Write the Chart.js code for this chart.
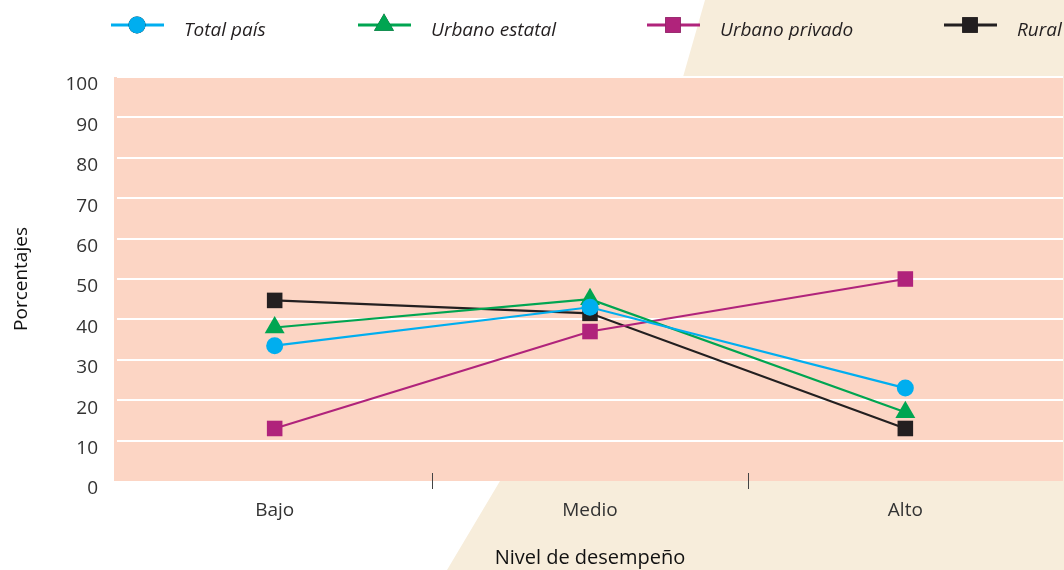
<!DOCTYPE html>
<html>
<head>
<meta charset="utf-8">
<script src="https://cdn.jsdelivr.net/npm/chart.js@4/dist/chart.umd.min.js"></script>
<style>
  html, body { margin: 0; padding: 0; background: #fff; }
  #wrap { position: relative; width: 1064px; height: 570px; }
</style>
</head>
<body>
<div id="wrap"><canvas id="chart" width="1064" height="570"></canvas></div>
<script>
const categories = ['Bajo', 'Medio', 'Alto'];
const totalPais = [33.5, 43, 23];
const urbanoEstatal = [38, 45, 17];
const urbanoPrivado = [13, 37, 50];
const rural = [44.7, 41.5, 13];
const yTicks = [0, 10, 20, 30, 40, 50, 60, 70, 80, 90, 100];

const FONT = '"Open Sans", "Noto Sans", sans-serif';
const legendX = [111, 358, 647, 944];

// beige diagonal shape + salmon plot area
const backdrop = {
    id: 'backdrop',
    beforeDraw(chart) {
        const { ctx, chartArea: a, width, height } = chart;
        ctx.save();
        ctx.fillStyle = '#f7eddb';
        ctx.beginPath();
        ctx.moveTo(705, 0);
        ctx.lineTo(width, 0);
        ctx.lineTo(width, height);
        ctx.lineTo(447, height);
        ctx.lineTo(500, a.bottom);
        ctx.lineTo(683, a.top);
        ctx.closePath();
        ctx.fill();
        ctx.fillStyle = '#fcd5c4';
        ctx.fillRect(a.left - 3, a.top, a.right - a.left + 3, a.bottom - a.top);
        ctx.restore();
    }
};

// small separators between categories
const catTicks = {
    id: 'catTicks',
    afterDraw(chart) {
        const { ctx, chartArea: a } = chart;
        const x = chart.scales.x;
        ctx.save();
        ctx.strokeStyle = '#444';
        ctx.lineWidth = 1;
        for (let i = 0; i < categories.length - 1; i++) {
            const px = Math.round((x.getPixelForTick(i) + x.getPixelForTick(i + 1)) / 2) + 0.5;
            ctx.beginPath();
            ctx.moveTo(px, a.bottom - 8);
            ctx.lineTo(px, a.bottom + 8);
            ctx.stroke();
        }
        ctx.restore();
    }
};

// legend: line with marker, italic label
const lineLegend = {
    id: 'lineLegend',
    afterDraw(chart) {
        const { ctx } = chart;
        const y = 25;
        ctx.save();
        ctx.font = 'italic 19px ' + FONT;
        ctx.textBaseline = 'middle';
        chart.data.datasets.forEach((ds, i) => {
            const x = legendX[i];
            ctx.strokeStyle = ds.borderColor;
            ctx.lineWidth = 3;
            ctx.beginPath();
            ctx.moveTo(x, y);
            ctx.lineTo(x + 53, y);
            ctx.stroke();
            Chart.helpers.drawPoint(ctx, {
                pointStyle: ds.pointStyle,
                radius: ds.pointRadius,
                borderWidth: 0,
                rotation: 0
            }, x + 26, y);
            ctx.fillStyle = ds.borderColor;
            ctx.fill();
            ctx.fillStyle = '#231f20';
            ctx.fillText(ds.label, x + 73, y + 6);
        });
        ctx.restore();
    }
};

function series(label, data, color, style, r) {
    return {
        label, data,
        borderColor: color,
        backgroundColor: color,
        pointBackgroundColor: color,
        pointBorderWidth: 0,
        pointStyle: style,
        pointRadius: r,
        pointHoverRadius: r,
        borderWidth: 2.2,
        tension: 0
    };
}

new Chart(document.getElementById('chart'), {
    type: 'line',
    data: {
        labels: categories,
        datasets: [
            series('Total país', totalPais, '#00aeef', 'circle', 8.5),
            series('Urbano estatal', urbanoEstatal, '#00a551', 'triangle', 11.5),
            series('Urbano privado', urbanoPrivado, '#b0237b', 'rect', 11),
            series('Rural', rural, '#231f20', 'rect', 11)
        ]
    },
    options: {
        responsive: false,
        animation: false,
        layout: { autoPadding: false, padding: { top: 77, right: 1, bottom: 0, left: 0 } },
        plugins: {
            legend: { display: false },
            tooltip: { enabled: false }
        },
        scales: {
            x: {
                offset: true,
                grid: { display: false },
                border: { display: false },
                ticks: { color: '#333', font: { family: FONT, size: 19 }, padding: 10 },
                title: {
                    display: true,
                    text: 'Nivel de desempeño',
                    color: '#111',
                    font: { family: FONT, size: 20 },
                    padding: { top: 4, bottom: 0 }
                },
                afterFit(s) { s.height = 89; s.paddingLeft = 0; s.paddingRight = 0; }
            },
            y: {
                min: 0,
                max: 100,
                afterBuildTicks(s) { s.ticks = yTicks.map(v => ({ value: v })); },
                grid: {
                    color: ctx => ctx.tick && ctx.tick.value === 0 ? 'rgba(0,0,0,0)' : '#ffffff',
                    lineWidth: 2,
                    drawTicks: false
                },
                border: { display: false },
                ticks: { color: '#333', font: { family: FONT, size: 19 }, padding: 19, labelOffset: 8 },
                title: {
                    display: true,
                    text: 'Porcentajes',
                    color: '#111',
                    font: { family: FONT, size: 19 },
                    padding: { top: 10, bottom: 0 }
                },
                afterFit(s) { s.width = 117; }
            }
        }
    },
    plugins: [backdrop, catTicks, lineLegend]
});
</script>
</body>
</html>
